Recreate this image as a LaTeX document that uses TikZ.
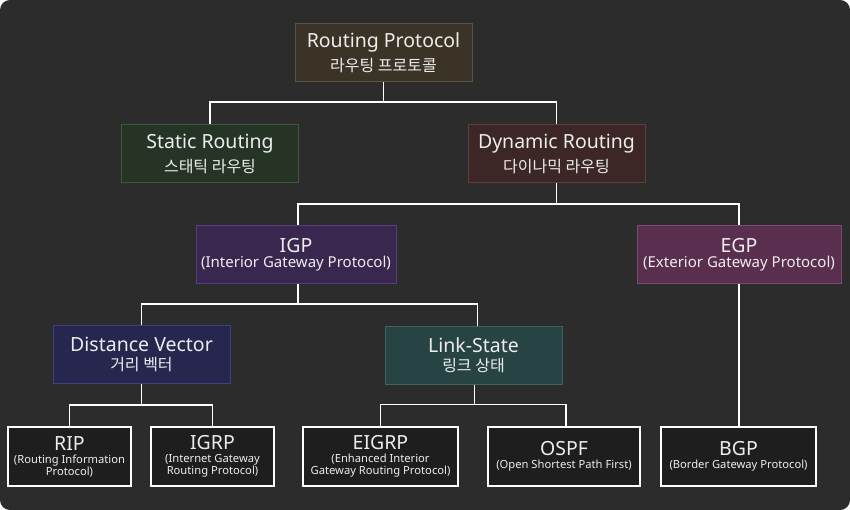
\documentclass[tikz,border=0pt]{standalone}
\usepackage{fontspec}
\setmainfont{Noto Sans}
\newfontfamily\korfont{Noto Sans CJK KR}
\usetikzlibrary{calc}

\definecolor{canvas}{HTML}{2C2C2C}
\definecolor{txt}{HTML}{EDEDED}
\definecolor{leafbg}{HTML}{1E1E1E}
\definecolor{rpfill}{HTML}{3B3325}\definecolor{rpline}{HTML}{5C5240}
\definecolor{srfill}{HTML}{263426}\definecolor{srline}{HTML}{3D5A3D}
\definecolor{drfill}{HTML}{3C2626}\definecolor{drline}{HTML}{5C3E3E}
\definecolor{igpfill}{HTML}{3A2750}\definecolor{igpline}{HTML}{54407A}
\definecolor{egpfill}{HTML}{5A2E4E}\definecolor{egpline}{HTML}{7A4A70}
\definecolor{dvfill}{HTML}{26264E}\definecolor{dvline}{HTML}{3F3F7E}
\definecolor{lsfill}{HTML}{284343}\definecolor{lsline}{HTML}{3F6262}

\newcommand{\bigtxt}{\fontsize{19.5}{21}\selectfont}
\newcommand{\subtxt}{\fontsize{15}{18}\selectfont}
\newcommand{\kortxt}{\korfont\fontsize{16}{18}\selectfont}
\newcommand{\smalltxt}{\fontsize{11.2}{13.5}\selectfont}

\tikzset{
  box/.style={draw=#1line, fill=#1fill, line width=1pt, minimum width=177pt,
    minimum height=58pt, align=center, text=txt, inner sep=0pt},
  leaf/.style={draw=white, fill=leafbg, line width=1.3pt, minimum width=#1,
    minimum height=59pt, align=center, text=txt, inner sep=0pt},
  link/.style={draw=white, line width=1.2pt},
}

\begin{document}
\begin{tikzpicture}[yscale=-1,x=1pt,y=1pt]
  % background
  \fill[white] (0,0) rectangle (850,510);
  \fill[canvas,rounded corners=10pt] (0,0) rectangle (850,510);
  \useasboundingbox (0,0) rectangle (850,510);

  % level 0 and 1
  \node[box=rp] (rp) at (383.5,52.5) {\bigtxt Routing Protocol\\[5pt]\kortxt 라우팅 프로토콜};
  \node[box=sr] (sr) at (210,153.5) {\bigtxt Static Routing\\[5pt]\kortxt 스태틱 라우팅};
  \node[box=dr] (dr) at (556.5,153.5) {\bigtxt Dynamic Routing\\[5pt]\kortxt 다이나믹 라우팅};

  % level 2
  \node[box=igp,minimum width=200pt] (igp) at (296,254.5) {\bigtxt IGP\\[3pt]\subtxt (Interior Gateway Protocol)};
  \node[box=egp,minimum width=204pt] (egp) at (739,254.5) {\bigtxt EGP\\[3pt]\subtxt (Exterior Gateway Protocol)};

  % level 3
  \node[box=dv] (dv) at (141.5,354.5) {\bigtxt Distance Vector\\[5pt]\kortxt 거리 벡터};
  \node[box=ls] (ls) at (473.5,355) {\bigtxt Link-State\\[5pt]\kortxt 링크 상태};

  % leaves
  \node[leaf=123pt] (rip) at (69.5,456.5) {\bigtxt RIP\\[1pt]\smalltxt (Routing Information\\\smalltxt Protocol)};
  \node[leaf=123pt] (igrp) at (212.5,456.5) {\bigtxt IGRP\\[1pt]\smalltxt (Internet Gateway\\\smalltxt Routing Protocol)};
  \node[leaf=155pt] (eigrp) at (380.5,456.5) {\bigtxt EIGRP\\[1pt]\smalltxt (Enhanced Interior\\\smalltxt Gateway Routing Protocol)};
  \node[leaf=152pt] (ospf) at (564,456.5) {\bigtxt OSPF\\[1pt]\smalltxt (Open Shortest Path First)};
  \node[leaf=155pt] (bgp) at (738.5,456.5) {\bigtxt BGP\\[1pt]\smalltxt (Border Gateway Protocol)};

  % connectors
  \draw[link] (rp.south) -- ++(0,20) coordinate (b1);
  \draw[link] (sr.north) |- (b1) -| (dr.north);
  \draw[link] (dr.south) -- ++(0,21) coordinate (b2);
  \draw[link] ([xshift=2pt]igp.north) |- (b2) -| (egp.north);
  \draw[link] ([xshift=2pt]igp.south) -- ++(0,20) coordinate (b3);
  \draw[link] (dv.north) |- (b3) -| ([xshift=4pt]ls.north);
  \draw[link] (dv.south) -- ++(0,21) coordinate (b4);
  \draw[link] (rip.north) |- (b4) -| (igrp.north);
  \draw[link] ([xshift=1pt]ls.south) -- ++(0,20) coordinate (b5);
  \draw[link] (eigrp.north) |- (b5) -| ([xshift=2pt]ospf.north);
  \draw[link] (egp.south) -- (egp.south |- bgp.north);
\end{tikzpicture}
\end{document}
